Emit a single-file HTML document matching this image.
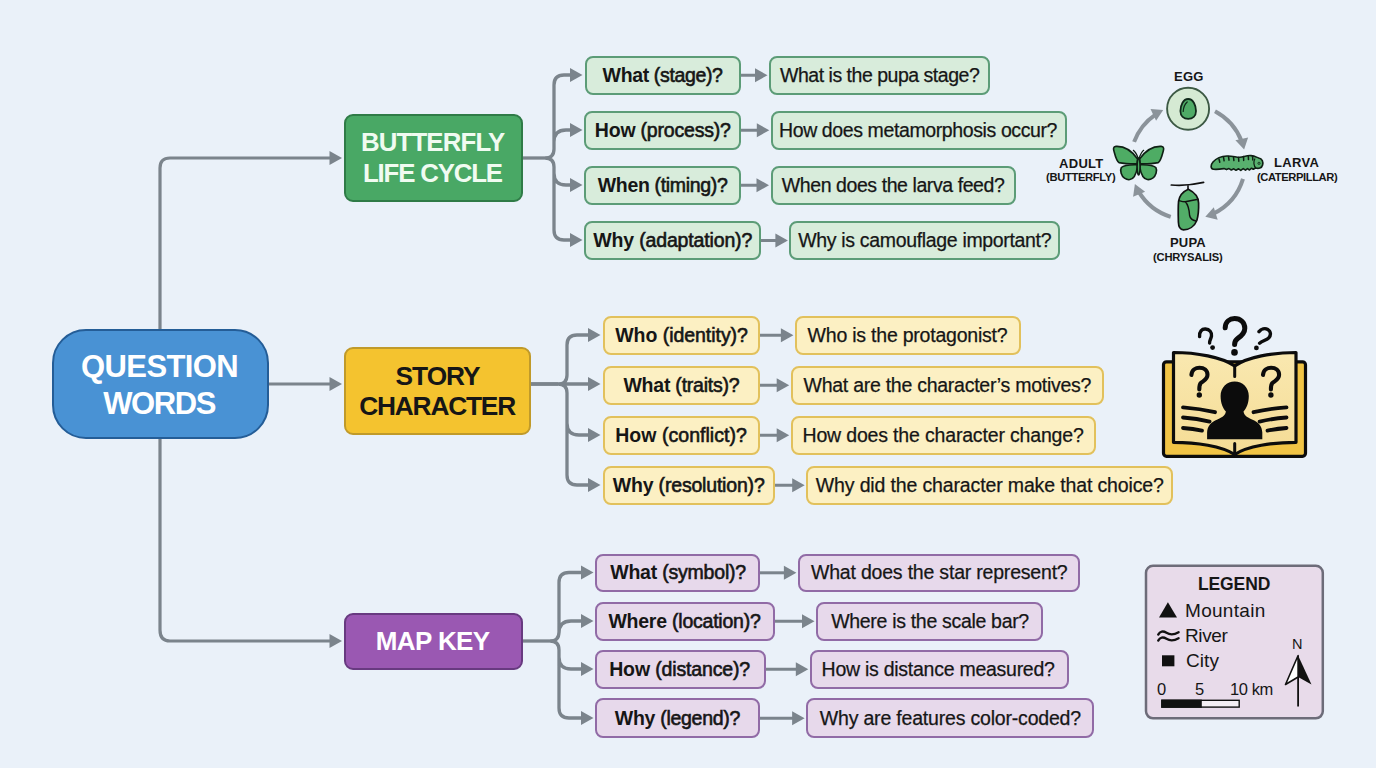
<!DOCTYPE html>
<html><head><meta charset="utf-8"><style>
html,body{margin:0;padding:0}
body{width:1376px;height:768px;overflow:hidden;position:relative;background:#eaf1f9;font-family:"Liberation Sans",sans-serif;color:#161616}
.box{position:absolute;box-sizing:border-box;border:2.7px solid;border-radius:8px}
.G{background:#d8ecdb;border-color:#5c9c77}
.Y{background:#fcf0c3;border-color:#e2c15c}
.P{background:#e7d9eb;border-color:#916ba6}
.main{position:absolute;box-sizing:border-box;border:2.8px solid}
.tx{position:absolute;white-space:nowrap;line-height:1;color:#161616}
.at{-webkit-text-stroke:0.25px #161616}
.qt{font-weight:400;-webkit-text-stroke:0.6px #161616}
.qt b{font-weight:700;-webkit-text-stroke:0}
.tw{font-weight:700;color:#fff}
.tg{font-weight:700;color:#f0fbf1}
.tk{font-weight:700;color:#161616}
.tb{font-weight:700;color:#161616}
.lg{font-weight:400;color:#161616}
svg{position:absolute;left:0;top:0}

</style></head><body>
<svg width="1376" height="768" viewBox="0 0 1376 768">
<line x1="740.5" y1="75.25" x2="757" y2="75.25" stroke="#7b848c" stroke-width="3"/>
<polygon points="755,68.25 767.5,75.25 755,82.25" fill="#7b848c"/>
<line x1="740.5" y1="130.25" x2="758.8" y2="130.25" stroke="#7b848c" stroke-width="3"/>
<polygon points="756.8,123.25 769.3,130.25 756.8,137.25" fill="#7b848c"/>
<line x1="740.5" y1="185.25" x2="758.5" y2="185.25" stroke="#7b848c" stroke-width="3"/>
<polygon points="756.5,178.25 769,185.25 756.5,192.25" fill="#7b848c"/>
<line x1="760.5" y1="240.5" x2="777.4" y2="240.5" stroke="#7b848c" stroke-width="3"/>
<polygon points="775.4,233.5 787.9,240.5 775.4,247.5" fill="#7b848c"/>
<line x1="760" y1="335.25" x2="782.9" y2="335.25" stroke="#7b848c" stroke-width="3"/>
<polygon points="780.9,328.25 793.4,335.25 780.9,342.25" fill="#7b848c"/>
<line x1="760" y1="385.25" x2="778.7" y2="385.25" stroke="#7b848c" stroke-width="3"/>
<polygon points="776.7,378.25 789.2,385.25 776.7,392.25" fill="#7b848c"/>
<line x1="760" y1="435.25" x2="778.7" y2="435.25" stroke="#7b848c" stroke-width="3"/>
<polygon points="776.7,428.25 789.2,435.25 776.7,442.25" fill="#7b848c"/>
<line x1="774.5" y1="485.25" x2="794.2" y2="485.25" stroke="#7b848c" stroke-width="3"/>
<polygon points="792.2,478.25 804.7,485.25 792.2,492.25" fill="#7b848c"/>
<line x1="760" y1="572.8" x2="785.9" y2="572.8" stroke="#7b848c" stroke-width="3"/>
<polygon points="783.9,565.8 796.4,572.8 783.9,579.8" fill="#7b848c"/>
<line x1="774.5" y1="621.25" x2="804" y2="621.25" stroke="#7b848c" stroke-width="3"/>
<polygon points="802,614.25 814.5,621.25 802,628.25" fill="#7b848c"/>
<line x1="765.5" y1="669.25" x2="797.8" y2="669.25" stroke="#7b848c" stroke-width="3"/>
<polygon points="795.8,662.25 808.3,669.25 795.8,676.25" fill="#7b848c"/>
<line x1="760" y1="718.15" x2="794.1" y2="718.15" stroke="#7b848c" stroke-width="3"/>
<polygon points="792.1,711.15 804.6,718.15 792.1,725.15" fill="#7b848c"/>
<path d="M268,384 H330 M330,158 H170 Q160,158 160,168 V630 Q160,641 170,641 H330" fill="none" stroke="#7b848c" stroke-width="3.2"/>
<polygon points="329.5,151 342,158 329.5,165" fill="#7b848c"/>
<polygon points="329.5,377 342,384 329.5,391" fill="#7b848c"/>
<polygon points="329.5,634 342,641 329.5,648" fill="#7b848c"/>
<path d="M523,158 H545" fill="none" stroke="#7b848c" stroke-width="3.3"/>
<path d="M545,158 Q554,158 554,149 V85 Q554,75 564,75 H570.5 M545,158 Q554,158 554,167 V230 Q554,240 564,240 H570.5 M554,142 Q554,130 566,130 H570.5 M554,173 Q554,185 566,185 H570.5 " fill="none" stroke="#7b848c" stroke-width="3.3"/>
<polygon points="570,68 582.5,75 570,82" fill="#7b848c"/>
<polygon points="570,123 582.5,130 570,137" fill="#7b848c"/>
<polygon points="570,178 582.5,185 570,192" fill="#7b848c"/>
<polygon points="570,233 582.5,240 570,247" fill="#7b848c"/>
<path d="M531,384 H558" fill="none" stroke="#7b848c" stroke-width="3.3"/>
<path d="M558,384 Q567,384 567,375 V345 Q567,335 577,335 H588.5 M558,384 Q567,384 567,393 V475 Q567,485 577,485 H588.5 M531,384 H588.5 M567,423 Q567,435 579,435 H588.5 " fill="none" stroke="#7b848c" stroke-width="3.3"/>
<polygon points="588,328 600.5,335 588,342" fill="#7b848c"/>
<polygon points="588,377 600.5,384 588,391" fill="#7b848c"/>
<polygon points="588,428 600.5,435 588,442" fill="#7b848c"/>
<polygon points="588,478 600.5,485 588,492" fill="#7b848c"/>
<path d="M522,641 H550" fill="none" stroke="#7b848c" stroke-width="3.3"/>
<path d="M550,641 Q559,641 559,632 V582.5 Q559,572.5 569,572.5 H581.5 M550,641 Q559,641 559,650 V708 Q559,718 569,718 H581.5 M559,633 Q559,621 571,621 H581.5 M559,657 Q559,669 571,669 H581.5 " fill="none" stroke="#7b848c" stroke-width="3.3"/>
<polygon points="581,565.5 593.5,572.5 581,579.5" fill="#7b848c"/>
<polygon points="581,614 593.5,621 581,628" fill="#7b848c"/>
<polygon points="581,662 593.5,669 581,676" fill="#7b848c"/>
<polygon points="581,711 593.5,718 581,725" fill="#7b848c"/>
</svg>
<div class="main" style="left:51.5px;top:329px;width:217px;height:110px;border-radius:34px;background:#4992d4;border-color:#245d97"></div>
<div class="main" style="left:343.5px;top:114px;width:179.5px;height:87.5px;border-radius:9px;background:#49a865;border-color:#2f7b47"></div>
<div class="main" style="left:344px;top:347px;width:187px;height:88px;border-radius:9px;background:#f4c32f;border-color:#c09a2a"></div>
<div class="main" style="left:344px;top:612.8px;width:179px;height:56.8px;border-radius:9px;background:#9a58b2;border-color:#683a80"></div>
<div class="box G" style="left:584.5px;top:56px;width:156px;height:38.5px"></div>
<div class="box G" style="left:769px;top:56px;width:221px;height:38.5px"></div>
<div class="box G" style="left:584px;top:111px;width:156.5px;height:38.5px"></div>
<div class="box G" style="left:770.8px;top:111px;width:296.7px;height:38.5px"></div>
<div class="box G" style="left:584px;top:166px;width:156.5px;height:38.5px"></div>
<div class="box G" style="left:770.5px;top:166px;width:245.5px;height:38.5px"></div>
<div class="box G" style="left:584px;top:221px;width:176.5px;height:39px"></div>
<div class="box G" style="left:789.4px;top:221px;width:270.6px;height:39px"></div>
<div class="box Y" style="left:602.5px;top:316px;width:157.5px;height:38.5px"></div>
<div class="box Y" style="left:794.9px;top:316px;width:226.1px;height:38.5px"></div>
<div class="box Y" style="left:602.5px;top:366px;width:157.5px;height:38.5px"></div>
<div class="box Y" style="left:790.7px;top:366px;width:313.8px;height:38.5px"></div>
<div class="box Y" style="left:602.5px;top:416px;width:157.5px;height:38.5px"></div>
<div class="box Y" style="left:790.7px;top:416px;width:305.3px;height:38.5px"></div>
<div class="box Y" style="left:602.5px;top:466px;width:172px;height:38.5px"></div>
<div class="box Y" style="left:806.2px;top:466px;width:367px;height:38.5px"></div>
<div class="box P" style="left:594.5px;top:553.6px;width:165.5px;height:38.4px"></div>
<div class="box P" style="left:797.9px;top:553.6px;width:281.8px;height:38.4px"></div>
<div class="box P" style="left:594.5px;top:602px;width:180px;height:38.5px"></div>
<div class="box P" style="left:816px;top:602px;width:226.6px;height:38.5px"></div>
<div class="box P" style="left:594.5px;top:650px;width:171px;height:38.5px"></div>
<div class="box P" style="left:809.8px;top:650px;width:259px;height:38.5px"></div>
<div class="box P" style="left:594.5px;top:698.3px;width:165.5px;height:39.7px"></div>
<div class="box P" style="left:806.1px;top:698.3px;width:287.5px;height:39.7px"></div>
<svg class="icon" width="1376" height="768" viewBox="0 0 1376 768" style="position:absolute;left:0;top:0">
<defs>
<radialGradient id="eggbg" cx="50%" cy="50%" r="50%"><stop offset="0" stop-color="#c9e6c9"/><stop offset="1" stop-color="#e2f1dd"/></radialGradient>
<linearGradient id="pagegr" x1="0" y1="0" x2="0" y2="1"><stop offset="0" stop-color="#f9e8b0"/><stop offset="1" stop-color="#f5dc95"/></linearGradient>
</defs>
<path d="M1134.1,141.9 A57.5,57.5 0 0 1 1155.8,114.3" fill="none" stroke="#8b939a" stroke-width="4"/>
<polygon points="1163.2,110.1 1150.5,109.0 1156.1,120.7" fill="#8b939a"/>
<path d="M1215.0,111.2 A57.5,57.5 0 0 1 1241.7,141.4" fill="none" stroke="#8b939a" stroke-width="4"/>
<polygon points="1244.1,149.6 1248.1,137.4 1235.4,140.2" fill="#8b939a"/>
<path d="M1243.0,178.8 A57.5,57.5 0 0 1 1213.2,213.7" fill="none" stroke="#8b939a" stroke-width="4"/>
<polygon points="1205.3,216.8 1217.7,219.7 1213.8,207.3" fill="#8b939a"/>
<path d="M1170.7,216.8 A57.5,57.5 0 0 1 1138.7,191.6" fill="none" stroke="#8b939a" stroke-width="4"/>
<polygon points="1134.9,184.0 1133.1,196.7 1145.1,191.7" fill="#8b939a"/>
<!-- egg -->
<circle cx="1188.1" cy="108.8" r="21" fill="#d5ead3" stroke="#3c5944" stroke-width="1.9"/>
<path d="M1188.2,99 C1193.3,99 1196,105.5 1196,111 C1196,116 1192.6,118.9 1188.2,118.9 C1183.8,118.9 1180.4,116 1180.4,111 C1180.4,105.5 1183.1,99 1188.2,99 Z" fill="#4fab66" stroke="#10291a" stroke-width="1.8"/>
<path d="M1183.2,111.5 Q1183.6,105 1187.2,102" fill="none" stroke="#10291a" stroke-width="1.2" stroke-linecap="round"/>
<!-- butterfly -->
<g fill="#4eac64" stroke="#0f1f14" stroke-width="1.6" stroke-linejoin="round">
<path d="M1137.6,159 C1132,151 1124,146 1116,146.4 C1113,146.7 1113.2,149 1114.2,152 C1115.5,157 1116.5,161 1119,162.6 C1125,163.8 1131,163.9 1137.2,163.8 Z"/>
<path d="M1139.6,159 C1145.2,151 1153.2,146 1161.2,146.4 C1164.2,146.7 1164,149 1163,152 C1161.7,157 1160.7,161 1158.2,162.6 C1152.2,163.8 1146.2,163.9 1140,163.8 Z"/>
<path d="M1137.2,164.8 C1131,164.6 1124,165 1121.4,167.5 C1119.6,170.5 1121.5,176 1124.5,178.2 C1128,180.5 1132,180 1134.3,176.5 C1136,173.5 1137,170 1137.4,167 Z"/>
<path d="M1140,164.8 C1146.2,164.6 1153.2,165 1155.8,167.5 C1157.6,170.5 1155.7,176 1152.7,178.2 C1149.2,180.5 1145.2,180 1142.9,176.5 C1141.2,173.5 1140.2,170 1139.8,167 Z"/>
<ellipse cx="1138.6" cy="166.5" rx="1.5" ry="8.5"/>
</g>
<path d="M1138.2,158.5 C1137,155 1135.5,151.5 1133,150.2 M1139,158.5 C1140.2,155 1141.7,151.5 1144,150" fill="none" stroke="#0f1f14" stroke-width="1.3"/>
<!-- caterpillar -->
<path d="M1213.5,169.2 C1210.2,168.6 1210.6,164.8 1213,162 C1216,158.6 1221,156.2 1227,156 C1233,155.8 1236.5,157.6 1240,157.3 C1244,156.8 1247,155.2 1251,155.6 C1254.5,156 1256.5,157.2 1258.6,158 C1262.5,158.5 1263.3,162 1262.6,165 C1261.8,168.2 1258.5,169 1255.5,168 L1253.3,169.3 L1251.5,168.2 L1249.5,170 L1247.5,168.6 L1245.5,170.2 L1243.2,168.6 L1240.8,170.4 L1238.6,168.8 L1236,170.3 L1233.8,168.8 L1231.3,170 L1229,168.6 L1226.5,169.6 L1224,168.6 C1220,169.2 1216.5,169.6 1213.5,169.2 Z" fill="#58b06e" stroke="#0f1f14" stroke-width="1.6" stroke-linejoin="round"/>
<path d="M1255,158.5 C1253.3,161.5 1253.5,166 1256,168" fill="none" stroke="#0f1f14" stroke-width="1.2"/>
<path d="M1219,159 l0.8,3.2 M1223.5,157.2 l0.6,3.6 M1228.5,156.4 l0.5,3.8 M1233.5,156.8 l0.4,3.8 M1238.5,157.4 l0.3,3.8 M1243.5,156.6 l0.2,3.8 M1248.3,155.8 l0.2,3.8 M1252.6,156.4 l0.2,3.5" fill="none" stroke="#0f1f14" stroke-width="1.5" stroke-linecap="round"/>
<circle cx="1259" cy="163.3" r="1.1" fill="none" stroke="#0f1f14" stroke-width="0.8"/>
<!-- chrysalis -->
<path d="M1171.3,185 Q1187.5,186.2 1203.6,182.4" fill="none" stroke="#111" stroke-width="1.7" stroke-linecap="round"/>
<path d="M1188,185.3 V189.5" stroke="#111" stroke-width="1.6"/>
<path d="M1188.3,189.2 C1194,192 1198.5,197 1198.6,203 C1198.8,210 1198.2,216 1196.8,220.5 C1194.5,226.5 1189,229.8 1183.5,229.8 C1180,229.6 1178.5,227 1178.4,222 C1178.2,215 1178,207 1178.6,201.2 C1179.5,195.5 1183,191.5 1188.3,189.2 Z" fill="#52ad68" stroke="#111" stroke-width="1.7"/>
<path d="M1179,200.6 Q1183,201.8 1185.3,201.8 Q1191.5,200.6 1198.2,199.2 M1185.3,201.8 C1188.5,205 1189.3,211 1189.6,215.5 C1190.3,219 1193,220.5 1196,221" fill="none" stroke="#111" stroke-width="1.4"/>
<!-- book -->
<g stroke="#0c0c0c" stroke-linejoin="round" stroke-linecap="round">
<rect x="1163.5" y="361.8" width="142" height="94.5" rx="3" fill="#f1c445" stroke-width="3.2"/>
<path d="M1173.5,352.5 C1196,352.5 1222,357 1234.7,366 C1247,357 1273,352.5 1296,352.5 L1296,442.3 C1273,442.3 1247,446 1234.7,454.5 C1222,446 1196,442.3 1173.5,442.3 Z" fill="url(#pagegr)" stroke-width="3.2"/>
<path d="M1234.7,366 V376.5 M1234.7,443.5 V454.5" fill="none" stroke-width="3"/>
<path d="M1183,407.3 Q1200,408.6 1215,412.2 M1183,417.5 Q1197,418.6 1209.6,421.6 M1183,428 Q1193,428.8 1202,430.6 M1286.5,407.3 Q1269.5,408.6 1253.5,412.2 M1286.5,417.5 Q1272.5,418.6 1259.6,421.6 M1286.5,428 Q1276.5,428.8 1267.5,430.6" fill="none" stroke-width="3.8"/>
</g>
<path d="M1234.7,381.5 C1242.5,381.5 1248.8,387.5 1248.8,396 C1248.8,403 1246.5,408.5 1243.5,411.5 C1244,414.5 1246,417 1252,419.5 C1258.5,422 1262,426 1262.3,432.5 L1262.3,439.2 L1207.1,439.2 L1207.1,432.5 C1207.4,426 1211,422 1217.4,419.5 C1223.4,417 1225.4,414.5 1225.9,411.5 C1222.9,408.5 1220.6,403 1220.6,396 C1220.6,387.5 1226.9,381.5 1234.7,381.5 Z" fill="#0c0c0c"/>
<g fill="none" stroke="#0c0c0c" stroke-width="4.1" stroke-linecap="round">
<path d="M1191.4,375 C1191.8,369.5 1196,367.8 1199.5,367.8 C1204,367.8 1207.5,370.5 1207.5,374.8 C1207.5,379.5 1203.5,380.8 1200.8,383 C1199.3,384.5 1199.3,386.5 1199.3,389.5"/>
<path d="M1263,375 C1263.4,369.5 1267.6,367.8 1271.1,367.8 C1275.6,367.8 1279.1,370.5 1279.1,374.8 C1279.1,379.5 1275.1,380.8 1272.4,383 C1270.9,384.5 1270.9,386.5 1270.9,389.5"/>
<path d="M1225.2,327.8 C1225.4,321.5 1229.8,318.6 1234.6,318.6 C1240.6,318.6 1244.8,322.6 1244.8,328.2 C1244.8,333.6 1241,336.2 1237.8,338.4 C1235.3,340.2 1234.6,341.8 1234.6,344.6" stroke-width="5"/>
<path d="M1199.6,336.6 C1199,331.6 1202,328.8 1205.4,329 C1209.6,329.2 1212,332.4 1211.5,336 C1211,339.2 1209.2,340.6 1209.6,343" stroke-width="3.4"/>
<path d="M1259,331.6 C1261.2,328.8 1265,327.8 1267.8,329.4 C1271,331.2 1271.2,335.2 1268.8,337.8 C1266.8,340 1262.5,340.8 1259.6,343.2" stroke-width="3.4"/>
</g>
<g fill="#0c0c0c">
<circle cx="1199.3" cy="395" r="2.7"/><circle cx="1270.9" cy="395" r="2.7"/>
<circle cx="1234.5" cy="352.4" r="3.3"/><circle cx="1212.6" cy="347.6" r="2.4"/><circle cx="1256.4" cy="347.9" r="2.4"/>
</g>
<!-- legend -->
<rect x="1146" y="565.8" width="176.8" height="152.5" rx="7" fill="#e8dbea" stroke="#6d6c79" stroke-width="2.5"/>
<polygon points="1167.9,602.3 1177,617.4 1159,617.4" fill="#111"/>
<path d="M1158.2,634.6 C1160,631.2 1163,630.6 1166.5,632.8 C1170,635 1173.5,635.2 1178.6,632.2 M1158.2,640.6 C1160,637.2 1163,636.6 1166.5,638.8 C1170,641 1173.5,641.2 1178.6,638.2" fill="none" stroke="#111" stroke-width="2.3" stroke-linecap="round"/>
<rect x="1162" y="655.3" width="12.4" height="11" fill="#111"/>
<rect x="1161.9" y="700.3" width="77.3" height="6.8" fill="#f4eef4" stroke="#111" stroke-width="1.4"/>
<rect x="1161.2" y="699.6" width="40.6" height="8.2" fill="#111"/>
<path d="M1298.1,656 L1298.1,706.5" stroke="#111" stroke-width="1.8"/>
<polygon points="1298.1,655.5 1311.5,684.5 1298.1,677" fill="#111"/>
<polygon points="1298.1,655.5 1285.5,684.5 1298.1,677" fill="#fff" stroke="#111" stroke-width="1.6" stroke-linejoin="round"/>
</svg>
<span id="q0" class="tx qt" style="left:602.6px;top:65.82px;font-size:19.5px;letter-spacing:-0.36px"><b>What</b> (stage)?</span>
<span id="a0" class="tx at" style="left:780px;top:65.82px;font-size:19.5px;letter-spacing:-0.48px">What is the pupa stage?</span>
<span id="q1" class="tx qt" style="left:594.8px;top:120.82px;font-size:19.5px;letter-spacing:-0.2px"><b>How</b> (process)?</span>
<span id="a1" class="tx at" style="left:779px;top:120.82px;font-size:19.5px;letter-spacing:-0.39px">How does metamorphosis occur?</span>
<span id="q2" class="tx qt" style="left:597.8px;top:175.82px;font-size:19.5px;letter-spacing:-0.34px"><b>When</b> (timing)?</span>
<span id="a2" class="tx at" style="left:781.8px;top:175.82px;font-size:19.5px;letter-spacing:-0.42px">When does the larva feed?</span>
<span id="q3" class="tx qt" style="left:593.2px;top:231.07px;font-size:19.5px;letter-spacing:-0.15px"><b>Why</b> (adaptation)?</span>
<span id="a3" class="tx at" style="left:798.2px;top:231.07px;font-size:19.5px;letter-spacing:-0.33px">Why is camouflage important?</span>
<span id="q4" class="tx qt" style="left:615.2px;top:325.82px;font-size:19.5px;letter-spacing:-0.04px"><b>Who</b> (identity)?</span>
<span id="a4" class="tx at" style="left:807.6px;top:325.82px;font-size:19.5px;letter-spacing:-0.22px">Who is the protagonist?</span>
<span id="q5" class="tx qt" style="left:623.4px;top:375.82px;font-size:19.5px;letter-spacing:-0.22px"><b>What</b> (traits)?</span>
<span id="a5" class="tx at" style="left:803.5px;top:375.82px;font-size:19.5px;letter-spacing:-0.26px">What are the character’s motives?</span>
<span id="q6" class="tx qt" style="left:615.2px;top:425.82px;font-size:19.5px;letter-spacing:0.04px"><b>How</b> (conflict)?</span>
<span id="a6" class="tx at" style="left:802.5px;top:425.82px;font-size:19.5px;letter-spacing:-0.17px">How does the character change?</span>
<span id="q7" class="tx qt" style="left:612.8px;top:475.82px;font-size:19.5px;letter-spacing:-0.19px"><b>Why</b> (resolution)?</span>
<span id="a7" class="tx at" style="left:815.8px;top:475.82px;font-size:19.5px;letter-spacing:-0.14px">Why did the character make that choice?</span>
<span id="q8" class="tx qt" style="left:610.2px;top:563.37px;font-size:19.5px;letter-spacing:-0.21px"><b>What</b> (symbol)?</span>
<span id="a8" class="tx at" style="left:811px;top:563.37px;font-size:19.5px;letter-spacing:-0.2px">What does the star represent?</span>
<span id="q9" class="tx qt" style="left:608.4px;top:611.82px;font-size:19.5px;letter-spacing:-0.23px"><b>Where</b> (location)?</span>
<span id="a9" class="tx at" style="left:831.2px;top:611.82px;font-size:19.5px;letter-spacing:-0.31px">Where is the scale bar?</span>
<span id="q10" class="tx qt" style="left:609.2px;top:659.82px;font-size:19.5px;letter-spacing:-0.15px"><b>How</b> (distance)?</span>
<span id="a10" class="tx at" style="left:821.6px;top:659.82px;font-size:19.5px;letter-spacing:-0.26px">How is distance measured?</span>
<span id="q11" class="tx qt" style="left:614.8px;top:708.72px;font-size:19.5px;letter-spacing:-0.29px"><b>Why</b> (legend)?</span>
<span id="a11" class="tx at" style="left:819.8px;top:708.72px;font-size:19.5px;letter-spacing:-0.19px">Why are features color-coded?</span>
<span id="t0" class="tx tw" style="left:81px;top:351.15px;font-size:31px;letter-spacing:-0.6px">QUESTION</span>
<span id="t1" class="tx tw" style="left:103.2px;top:387.95px;font-size:31px;letter-spacing:-1.4px">WORDS</span>
<span id="t2" class="tx tg" style="left:361px;top:129.63px;font-size:25.8px;letter-spacing:-0.85px">BUTTERFLY</span>
<span id="t3" class="tx tg" style="left:363px;top:160.63px;font-size:25.8px;letter-spacing:-1.16px">LIFE CYCLE</span>
<span id="t4" class="tx tk" style="left:395.6px;top:362.57px;font-size:26.3px;letter-spacing:-1.02px">STORY</span>
<span id="t5" class="tx tk" style="left:359.2px;top:393.37px;font-size:26.3px;letter-spacing:-1.19px">CHARACTER</span>
<span id="t6" class="tx tw" style="left:375.8px;top:627.91px;font-size:26px;letter-spacing:-0.6px">MAP KEY</span>
<span id="l0" class="tx tb" style="left:1174px;top:70.2px;font-size:13px;letter-spacing:0.25px">EGG</span>
<span id="l1" class="tx tb" style="left:1059px;top:156.9px;font-size:13px;letter-spacing:0.3px">ADULT</span>
<span id="l2" class="tx tb" style="left:1046px;top:172.14px;font-size:11.2px;letter-spacing:-0.32px">(BUTTERFLY)</span>
<span id="l3" class="tx tb" style="left:1274px;top:156.3px;font-size:13px;letter-spacing:0.35px">LARVA</span>
<span id="l4" class="tx tb" style="left:1257px;top:171.74px;font-size:11.2px;letter-spacing:-0.41px">(CATERPILLAR)</span>
<span id="l5" class="tx tb" style="left:1170px;top:236.2px;font-size:13px;letter-spacing:0.2px">PUPA</span>
<span id="l6" class="tx tb" style="left:1153px;top:251.54px;font-size:11.2px;letter-spacing:-0.19px">(CHRYSALIS)</span>
<span id="g0" class="tx tb" style="left:1198px;top:575.52px;font-size:17.5px;letter-spacing:-0.12px">LEGEND</span>
<span id="g1" class="tx lg" style="left:1185px;top:601.12px;font-size:19px;letter-spacing:0.3px">Mountain</span>
<span id="g2" class="tx lg" style="left:1185px;top:626.32px;font-size:19px;letter-spacing:-0.38px">River</span>
<span id="g3" class="tx lg" style="left:1186px;top:650.82px;font-size:19px;letter-spacing:0.07px">City</span>
<span id="g4" class="tx lg" style="left:1157px;top:681.15px;font-size:16.5px;letter-spacing:11.8px">0</span>
<span id="g5" class="tx lg" style="left:1195px;top:681.15px;font-size:16.5px;letter-spacing:31.3px">5</span>
<span id="g6" class="tx lg" style="left:1230px;top:681.15px;font-size:16.5px;letter-spacing:-0.42px">10 km</span>
<span id="g7" class="tx lg" style="left:1292px;top:636.71px;font-size:14.5px;letter-spacing:57.8px">N</span>
</body></html>
